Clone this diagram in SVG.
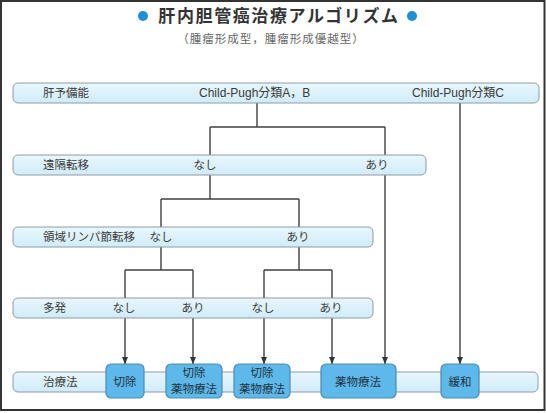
<svg xmlns="http://www.w3.org/2000/svg" width="546" height="413" viewBox="0 0 546 413">
  <style>
    .jp { font-family: "Liberation Sans", "Noto Sans CJK JP", sans-serif; font-size: 11.5px; fill: #3a3a3a; }
    .cp { font-size: 12px; }
    .bar { fill: url(#barGrad); stroke: #8e9ca6; stroke-width: 1; }
    .box { fill: #5cb9ea; stroke: #4b8db5; stroke-width: 1.2; }
    .boxt { font-family: "Liberation Sans", "Noto Sans CJK JP", sans-serif; font-size: 11.5px; fill: #24323c; text-anchor: middle; }
    .conn { fill: none; stroke: #404040; stroke-width: 1.4; }
    .arr { marker-end: url(#ah); }
  </style>
  <defs>
    <linearGradient id="barGrad" x1="0" y1="0" x2="0" y2="1">
      <stop offset="0" stop-color="#e9f6fd"/>
      <stop offset="1" stop-color="#cfecf9"/>
    </linearGradient>
    <marker id="ah" markerWidth="8" markerHeight="8" refX="7" refY="4" orient="auto" markerUnits="userSpaceOnUse">
      <path d="M0,1 L7,4 L0,7 Z" fill="#333"/>
    </marker>
  </defs>
  <rect x="0" y="0" width="546" height="413" fill="#ffffff"/>
  <rect x="1" y="1" width="543.5" height="409" fill="none" stroke="#333" stroke-width="2"/>

  <g id="title">
    <circle cx="143" cy="16" r="5" fill="#1e8fd8"/>
    <circle cx="412" cy="16" r="5" fill="#1e8fd8"/>
    <text x="279" y="22" text-anchor="middle" font-family="'Noto Sans CJK JP', sans-serif" font-size="17" font-weight="bold" letter-spacing="1.6" fill="#333">肝内胆管癌治療アルゴリズム</text>
    <text x="271" y="43" text-anchor="middle" font-family="'Noto Sans CJK JP', sans-serif" font-size="11.5" letter-spacing="1" fill="#666">（腫瘤形成型，腫瘤形成優越型）</text>
  </g>

  <g id="connectors">
    <path class="conn" d="M257,103 V127 M210,127 H385 M210,127 V155"/>
    <path class="conn" d="M210,175 V199 M161,199 H299 M161,199 V227 M299,199 V227"/>
    <path class="conn" d="M161,247 V270 M125,270 H193 M299,247 V270 M264,270 H332"/>
    <path class="conn arr" d="M125,270 V364"/>
    <path class="conn arr" d="M193,270 V364"/>
    <path class="conn arr" d="M264,270 V364"/>
    <path class="conn arr" d="M332,270 V364"/>
    <path class="conn arr" d="M385,127 V364"/>
    <path class="conn arr" d="M460,103 V364"/>
  </g>

  <g id="row-liver">
    <rect class="bar" x="13" y="83" width="526" height="20" rx="5"/>
    <text class="jp" x="43" y="97">肝予備能</text>
    <text class="jp cp" x="199" y="97">Child-Pugh分類A，B</text>
    <text class="jp cp" x="412" y="97">Child-Pugh分類C</text>
  </g>

  <g id="row-distant">
    <rect class="bar" x="13" y="155" width="413" height="20" rx="5"/>
    <text class="jp" x="43" y="169">遠隔転移</text>
    <text class="jp" x="205" y="169" text-anchor="middle">なし</text>
    <text class="jp" x="377" y="169" text-anchor="middle">あり</text>
  </g>

  <g id="row-lymph">
    <rect class="bar" x="13" y="227" width="360" height="20" rx="5"/>
    <text class="jp" x="43" y="241">領域リンパ節転移</text>
    <text class="jp" x="161" y="241" text-anchor="middle">なし</text>
    <text class="jp" x="298" y="241" text-anchor="middle">あり</text>
  </g>

  <g id="row-multiple">
    <rect class="bar" x="13" y="298" width="360" height="20" rx="5"/>
    <text class="jp" x="43" y="312">多発</text>
    <text class="jp" x="124" y="312" text-anchor="middle">なし</text>
    <text class="jp" x="193" y="312" text-anchor="middle">あり</text>
    <text class="jp" x="263" y="312" text-anchor="middle">なし</text>
    <text class="jp" x="331" y="312" text-anchor="middle">あり</text>
  </g>

  <g id="row-treatment">
    <rect class="bar" x="13" y="372" width="525" height="20" rx="5"/>
    <text class="jp" x="43" y="386">治療法</text>
  </g>

  <g id="box-resection">
    <rect class="box" x="106" y="364" width="38" height="34" rx="5"/>
    <text class="boxt" x="125" y="386">切除</text>
  </g>
  <g id="box-resection-drug-1">
    <rect class="box" x="166" y="364" width="56" height="34" rx="5"/>
    <text class="boxt" x="194" y="377">切除</text>
    <text class="boxt" x="194" y="393">薬物療法</text>
  </g>
  <g id="box-resection-drug-2">
    <rect class="box" x="234" y="364" width="56" height="34" rx="5"/>
    <text class="boxt" x="262" y="377">切除</text>
    <text class="boxt" x="262" y="393">薬物療法</text>
  </g>
  <g id="box-drug">
    <rect class="box" x="321" y="364" width="75" height="34" rx="5"/>
    <text class="boxt" x="358" y="386">薬物療法</text>
  </g>
  <g id="box-palliative">
    <rect class="box" x="441" y="364" width="38" height="34" rx="5"/>
    <text class="boxt" x="460" y="386">緩和</text>
  </g>
</svg>
